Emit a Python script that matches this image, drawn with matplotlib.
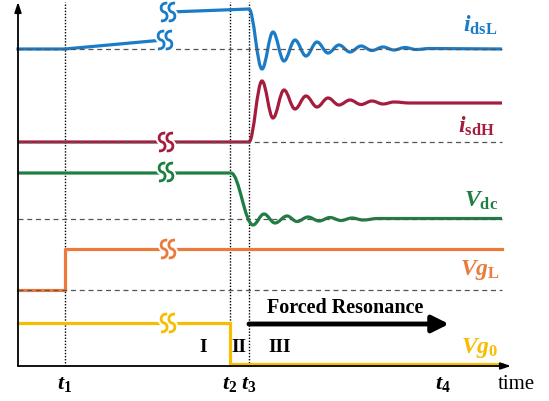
import numpy as np
import matplotlib
matplotlib.use('Agg')
import matplotlib.pyplot as plt
from matplotlib.path import Path
from matplotlib.patches import PathPatch
import matplotlib.patheffects as pe

plt.rcParams['font.family'] = 'Liberation Serif'
plt.rcParams['mathtext.fontset'] = 'custom'
plt.rcParams['mathtext.rm'] = 'Liberation Serif'
plt.rcParams['mathtext.it'] = 'Liberation Serif:italic'
plt.rcParams['mathtext.bf'] = 'Liberation Serif:bold'
plt.rcParams['mathtext.bfit'] = 'Liberation Serif:italic:bold'

# time runs 0 .. ~490 (arbitrary units), amplitudes stacked on one axis
t_marks = [47, 212, 231, 425]
t_labels = [r'$\mathbfit{t}_{\mathbf{1}}$', r'$\mathbfit{t}_{\mathbf{2}}$',
            r'$\mathbfit{t}_{\mathbf{3}}$', r'$\mathbfit{t}_{\mathbf{4}}$']
t_end = 484

# i_dsL (blue)
blue_lo_x = [0, 47, 145]
blue_lo_y = [317, 317, 326]
blue_hi_x = [152, 231]
blue_hi_y = [354, 357]
blue_osc_x = [244, 255, 266, 277, 288, 299, 310, 321, 332, 343, 354, 365, 376, 387, 398, 412]
blue_osc_y = [297, 334, 305, 326, 310, 324, 313, 321, 314, 320, 315.5, 319, 316, 318.5, 316.5, 317.5]
blue_final = 317

# i_sdH (red)
red_flat_x = [0, 231]
red_flat_y = [224, 224]
red_osc_x = [244, 255, 266, 277, 288, 299, 310, 321, 332, 343, 354, 365, 376, 392]
red_osc_y = [285, 248, 276, 257, 270, 259, 268, 261, 266, 261.5, 265, 262, 264, 263]
red_final = 263

# V_dc (green)
green_flat_x = [0, 213]
green_flat_y = [193, 193]
green_osc_x = [235, 246, 257, 269, 279, 290, 301, 312, 323, 334, 345, 360]
green_osc_y = [141, 152, 143, 150, 144.5, 149, 145, 148.5, 145.5, 148, 146, 147.5]
green_final = 147.5

# Vg_L (orange) and Vg_0 (yellow)
orange_x = [0, 47, 47, t_end]
orange_y = [76, 76, 117, 117]
yellow_x = [0, 212, 212, t_end]
yellow_y = [43, 43, 2, 2]

# dashed reference levels
ref_levels = [317, 224, 147, 76]

# axis-break marks
break_x = [147, 150, 148, 148, 150, 150]
break_y = [326, 354, 224, 194, 117, 43]

c_blue = '#1a7cc6'
c_red = '#a51d3d'
c_green = '#1d7f42'
c_orange = '#ea7b3c'
c_yellow = '#f7bd00'
break_c = [c_blue, c_blue, c_red, c_green, c_orange, c_yellow]


def wave(xs, ys, kx, ky, x_end, y_end):
    # straight part, then smooth swings between the extrema
    verts = [(xs[0], ys[0])]
    codes = [Path.MOVETO]
    for x, y in zip(xs[1:], ys[1:]):
        verts.append((x, y))
        codes.append(Path.LINETO)
    px, py = xs[-1], ys[-1]
    for x, y in zip(kx, ky):
        d = (x - px) * 0.37
        verts += [(px + d, py), (x - d, y), (x, y)]
        codes += [Path.CURVE4] * 3
        px, py = x, y
    verts.append((x_end, y_end))
    codes.append(Path.LINETO)
    return Path(verts, codes)


# break glyph: two little S shapes
s_verts = []
s_codes = []
for off in (-0.22, 0.22):
    s_verts += [(off + 0.18, 0.5), (off - 0.25, 0.55), (off - 0.25, 0.05), (off, 0.0),
                (off + 0.25, -0.05), (off + 0.25, -0.55), (off - 0.18, -0.5)]
    s_codes += [Path.MOVETO] + [Path.CURVE4] * 6
break_marker = Path(s_verts, s_codes)

fig = plt.figure(figsize=(5.49, 4.02), dpi=100)
ax = fig.add_axes([0, 0, 1, 1])
ax.set_xlim(-18, 531)
ax.set_ylim(-35, 367)
ax.axis('off')

# reference levels and time markers
for lev in ref_levels:
    ax.plot([0, t_end], [lev, lev], color='#555555', lw=0.9, dashes=(4, 3), zorder=3)
for tm in t_marks[:3]:
    ax.plot([tm, tm], [0, 364], color='black', lw=1.0, ls=(0, (1, 1.2)), zorder=1)

lw = 2.3
ax.plot(blue_lo_x, blue_lo_y, color=c_blue, lw=lw, zorder=2)
ax.add_patch(PathPatch(wave(blue_hi_x, blue_hi_y, blue_osc_x, blue_osc_y, t_end, blue_final),
                       fill=False, ec=c_blue, lw=lw, zorder=2))
ax.add_patch(PathPatch(wave(red_flat_x, red_flat_y, red_osc_x, red_osc_y, t_end, red_final),
                       fill=False, ec=c_red, lw=lw, zorder=2))
ax.add_patch(PathPatch(wave(green_flat_x, green_flat_y, green_osc_x, green_osc_y, t_end, green_final),
                       fill=False, ec=c_green, lw=lw, zorder=2))
ax.plot(orange_x, orange_y, color=c_orange, lw=lw, zorder=2)
ax.plot(yellow_x, yellow_y, color=c_yellow, lw=lw, zorder=2)

for x, y, c in zip(break_x, break_y, break_c):
    ax.plot(x, y, marker=break_marker, ms=14, mfc='none', mec=c, mew=2.0, zorder=4,
            path_effects=[pe.Stroke(linewidth=5, foreground='white'), pe.Normal()])

# axes
ax.annotate('', xy=(0, 364), xytext=(0, 0),
            arrowprops=dict(arrowstyle='-|>,head_length=0.6,head_width=0.2', lw=1.3,
                            color='black', shrinkA=0, shrinkB=0), zorder=5)
ax.annotate('', xy=(493, 0), xytext=(0, 0),
            arrowprops=dict(arrowstyle='-|>,head_length=0.6,head_width=0.2', lw=1.3,
                            color='black', shrinkA=0, shrinkB=0), zorder=5)

# forced resonance arrow
ax.annotate('', xy=(431, 42), xytext=(231, 42),
            arrowprops=dict(arrowstyle='-|>,head_length=1.0,head_width=0.5', lw=3.5,
                            color='black', shrinkA=0, shrinkB=0), zorder=5)
ax.text(327, 59, 'Forced Resonance', fontsize=14.5, fontweight='bold', ha='center', va='center')

# labels
ax.text(462, 342, r'$\mathbfit{i}_{\mathbf{dsL}}$', color=c_blue, fontsize=17, ha='center', va='center')
ax.text(458, 241, r'$\mathbfit{i}_{\mathbf{sdH}}$', color=c_red, fontsize=17, ha='center', va='center')
ax.text(463, 166, r'$\mathbfit{V}_{\mathbf{dc}}$', color=c_green, fontsize=17, ha='center', va='center')
ax.text(462, 97, r'$\mathbfit{Vg}_{\mathbf{L}}$', color=c_orange, fontsize=17, ha='center', va='center')
ax.text(462, 19, r'$\mathbfit{Vg}_{\mathbf{0}}$', color=c_yellow, fontsize=17, ha='center', va='center')

for tm, lab in zip(t_marks, t_labels):
    ax.text(tm, -18, lab, fontsize=16, ha='center', va='center')
ax.text(498, -18, 'time', fontsize=15, ha='center', va='center')

ax.text(185, 19, 'I', fontsize=14, fontweight='bold', ha='center', va='center')
ax.text(221, 19, 'II', fontsize=14, fontweight='bold', ha='center', va='center')
ax.text(262, 19, 'III', fontsize=14, fontweight='bold', ha='center', va='center')

fig.savefig('out.png', dpi=100)
